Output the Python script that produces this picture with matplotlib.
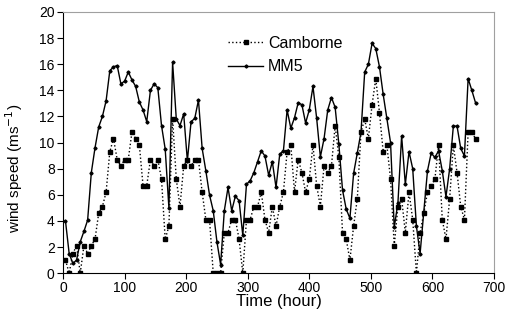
import numpy as np
import matplotlib
matplotlib.use("Agg")
import matplotlib.pyplot as plt

plt.rcParams['font.family'] = ['Liberation Sans', 'DejaVu Sans']

# 6-hourly samples
hours = np.arange(4, 672, 6)

mm5 = [4.0, 1.5, 0.74, 1.0, 2.4, 3.2, 4.06, 7.7, 9.6, 11.2,
       12.0, 13.2, 15.5, 15.8, 15.9, 14.5, 14.7, 15.4, 14.8, 14.3,
       13.1, 12.5, 11.6, 14.0, 14.5, 14.2, 11.3, 9.5, 5.0, 16.15,
       11.8, 11.3, 12.2, 8.6, 11.6, 11.85, 13.26, 9.55, 7.84, 5.98,
       4.78, 2.4, 0.66, 4.78, 6.56, 4.78, 5.9, 5.54, 2.9, 6.8,
       7.08, 7.7, 8.53, 9.37, 8.97, 7.5, 8.53, 6.56, 9.1, 9.37,
       12.5, 11.1, 11.9, 13.05, 12.9, 11.5, 12.5, 14.3, 11.85, 8.9,
       10.3, 12.5, 13.45, 12.7, 9.9, 6.36, 4.9, 4.2, 7.64, 9.2,
       10.8, 15.4, 16.0, 17.6, 17.2, 15.8, 13.7, 11.85, 10.0, 3.5,
       5.4, 10.5, 6.8, 9.3, 8.0, 3.6, 1.5, 4.7, 7.84, 9.2,
       8.86, 9.37, 7.84, 5.85, 8.0, 11.26, 11.26, 9.55, 8.97, 14.9,
       14.0, 13.05]

camborne = [1.0, 0, 1.5, 2.1, 0, 2.1, 1.5, 2.1, 2.6, 4.6,
            5.1, 6.2, 9.3, 10.3, 8.7, 8.2, 8.7, 8.7, 10.8, 10.3,
            9.8, 6.7, 6.7, 8.7, 8.2, 8.7, 7.2, 2.6, 3.6, 11.8,
            7.2, 5.1, 8.2, 8.7, 8.2, 8.7, 8.7, 6.2, 4.1, 4.1,
            0, 0, 0, 3.1, 3.1, 4.1, 4.1, 2.6, 0, 4.1,
            4.1, 5.1, 5.1, 6.2, 4.1, 3.1, 5.1, 3.6, 5.1, 6.2,
            9.3, 9.8, 6.2, 8.7, 7.7, 6.2, 7.2, 9.8, 6.7, 5.1,
            8.2, 7.7, 8.2, 11.3, 8.9, 3.1, 2.6, 1.0, 3.6, 5.7,
            10.8, 11.8, 10.3, 12.9, 14.9, 12.3, 9.3, 9.8, 7.2, 2.1,
            5.1, 5.7, 3.1, 6.2, 4.1, 0, 3.1, 4.6, 6.2, 6.7,
            7.2, 9.8, 4.1, 2.6, 5.7, 9.8, 7.7, 5.1, 4.1, 10.8,
            10.8, 10.3]

fig = plt.figure(figsize=(5.11, 3.24), dpi=100)
ax = fig.add_axes([0.1233, 0.157, 0.8434, 0.806])

ax.plot(hours, camborne, color='k', ls=':', lw=1.0, marker='s', ms=2.6,
        label='Camborne')
ax.plot(hours, mm5, color='k', ls='-', lw=1.0, marker='D', ms=1.6,
        label='MM5')

ax.set_xlim(0, 700)
ax.set_ylim(0, 20)
ax.set_xticks(range(0, 701, 100))
ax.set_yticks(range(0, 21, 2))
ax.tick_params(direction='out', length=4, width=0.8, labelsize=10, pad=2)

for s in ['top', 'right']:
    ax.spines[s].set_color('#a0a0a0')
for s in ['left', 'bottom']:
    ax.spines[s].set_color('k')

ax.set_xlabel('Time (hour)', fontsize=12, labelpad=-1)
ax.set_ylabel('wind speed (ms$^{-1}$)', fontsize=11)
ax.yaxis.set_label_coords(-0.088, 0.4)

ax.legend(loc='upper left', bbox_to_anchor=(0.365, 0.94), frameon=False,
          fontsize=11.5, handlelength=2.2, handletextpad=0.3,
          labelspacing=0.55, borderpad=0)

fig.savefig('out.png', dpi=100)
